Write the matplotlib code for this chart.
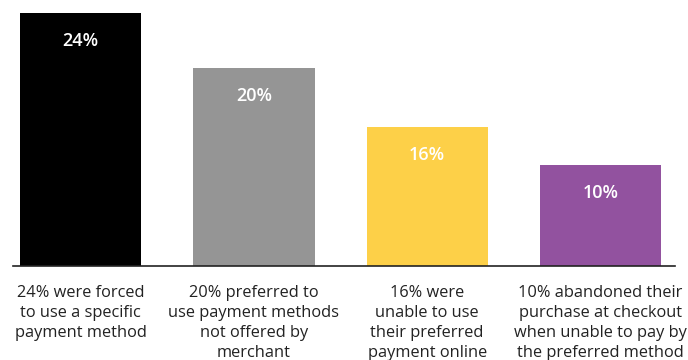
import numpy as np
import matplotlib
matplotlib.use("Agg")
from matplotlib import pyplot as plt

labels = ["24% were forced\nto use a specific\npayment method",
          "20% preferred to\nuse payment methods\nnot offered by\nmerchant",
          "16% were\nunable to use\ntheir preferred\npayment online",
          "10% abandoned their\npurchase at checkout\nwhen unable to pay by\nthe preferred method"]
bar_labels = ["24%", "20%", "16%", "10%"]
heights = [24, 18.8, 13.2, 9.6]
colors = ["#000000", "#959595", "#FDD048", "#92529F"]

plt.rcParams["font.family"] = ["Open Sans", "DejaVu Sans"]

fig = plt.figure(figsize=(6.88, 3.6), dpi=100)
ax = fig.add_axes([0.019, 0.261, 0.962, 0.703])

x = np.arange(len(heights))
bars = ax.bar(x, heights, width=0.7, color=colors)

#value labels inside bars
for b, txt in zip(bars, bar_labels):
    ax.annotate(txt, (b.get_x() + b.get_width() / 2, b.get_height()),
                xytext=(0, -20), textcoords="offset points",
                ha="center", va="center", color="white",
                fontsize=13, fontweight="semibold")

ax.set_xlim(-0.39, 3.43)
ax.set_ylim(0, 24)
ax.set_xticks(x)
ax.set_xticklabels(labels, fontsize=11.8, linespacing=1.32)
ax.tick_params(axis="x", length=0, pad=14, colors="#222222")
ax.set_yticks([])
for s in ["top", "right", "left"]:
    ax.spines[s].set_visible(False)
ax.spines["bottom"].set_color("#222222")
ax.spines["bottom"].set_linewidth(1.2)

fig.savefig("out.png", dpi=100)
